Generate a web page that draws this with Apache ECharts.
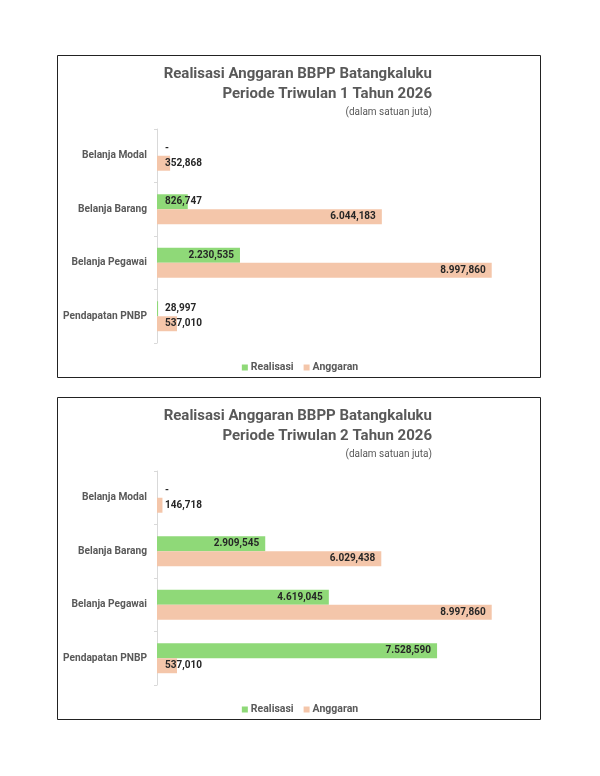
<!DOCTYPE html>
<html><head><meta charset="utf-8">
<script src="https://cdn.jsdelivr.net/npm/echarts@6/dist/echarts.min.js"></script>
<style>html,body{margin:0;padding:0;background:#fff}#c{width:600px;height:776px}</style>
</head><body><div id="c"></div>
<script>
const categories = ['Belanja Modal', 'Belanja Barang', 'Belanja Pegawai', 'Pendapatan PNBP'];
const seriesNames = ['Realisasi', 'Anggaran'];
const q1Realisasi = [0, 826.747, 2230.535, 28.997];
const q1Anggaran = [352.868, 6044.183, 8997.860, 537.010];
const q2Realisasi = [0, 2909.545, 4619.045, 7528.590];
const q2Anggaran = [146.718, 6029.438, 8997.860, 537.010];
const titles = ['Realisasi Anggaran BBPP Batangkaluku\nPeriode Triwulan 1 Tahun 2026',
                'Realisasi Anggaran BBPP Batangkaluku\nPeriode Triwulan 2 Tahun 2026'];
const subtitle = '(dalam satuan juta)';

const FONT = 'Roboto';
const GREEN = '#8fd978', PEACH = '#f4c6aa';

function fmt(v) {
  if (!v) return '-';
  const s = v.toFixed(3).split('.');
  const intp = s[0].replace(/\B(?=(\d{3})+(?!\d))/g, '.');
  return intp + ',' + s[1];
}
function items(arr) {
  return arr.map(v => ({
    value: v,
    label: v > 1500 ? {position: 'insideRight', distance: 6} : {position: 'insideLeft', distance: 8}
  }));
}
const offsets = [0, 342];
const chart = echarts.init(document.getElementById('c'));
const grids = [], xAxes = [], yAxes = [], series = [], titleOpts = [], legends = [], graphics = [];
[[q1Realisasi, q1Anggaran], [q2Realisasi, q2Anggaran]].forEach((pair, i) => {
  const o = offsets[i];
  graphics.push({type: 'rect', shape: {x: 57.5, y: 55.5 + o, width: 483, height: 322},
    style: {fill: 'none', stroke: '#222', lineWidth: 1}, silent: true});
  titleOpts.push({
    text: titles[i], subtext: subtitle, left: 432, top: 64 + o, textAlign: 'right',
    textStyle: {fontFamily: FONT, fontSize: 15, fontWeight: 'bold', color: '#595959', lineHeight: 20},
    subtextStyle: {fontFamily: FONT, fontSize: 10, color: '#595959', align: 'right'},
    itemGap: 3, padding: 0
  });
  grids.push({left: 157, top: 129 + o, width: 372, height: 214});
  xAxes.push({gridIndex: i, type: 'value', min: 0, max: 10000, show: false, splitLine: {show: false}});
  yAxes.push({gridIndex: i, type: 'category', data: categories, inverse: true,
    axisLine: {lineStyle: {color: '#d9d9d9'}},
    axisTick: {show: true, length: 3, lineStyle: {color: '#d9d9d9'}},
    axisLabel: {fontFamily: FONT, fontSize: 10.2, fontWeight: 'bold', color: '#595959', margin: 10}
  });
  legends.push({
    data: seriesNames, left: 'center', top: 357 + o, itemWidth: 6, itemHeight: 6, itemGap: 10,
    icon: 'rect', textStyle: {fontFamily: FONT, fontSize: 10.5, fontWeight: 'bold', color: '#595959', padding: [0, 0, 0, -2]}
  });
  pair.forEach((arr, k) => {
    series.push({
      name: seriesNames[k], type: 'bar', xAxisIndex: i, yAxisIndex: i,
      data: items(arr), barGap: 0, barCategoryGap: '44%',
      itemStyle: {color: k === 0 ? GREEN : PEACH},
      label: {show: true, formatter: p => fmt(p.value), fontFamily: FONT, fontSize: 10, fontWeight: 'bold', color: '#262626'},
      emphasis: {disabled: true}, animation: false
    });
  });
});
chart.setOption({
  animation: false,
  title: titleOpts, grid: grids, xAxis: xAxes, yAxis: yAxes, series: series, legend: legends,
  graphic: graphics
});
</script></body></html>
